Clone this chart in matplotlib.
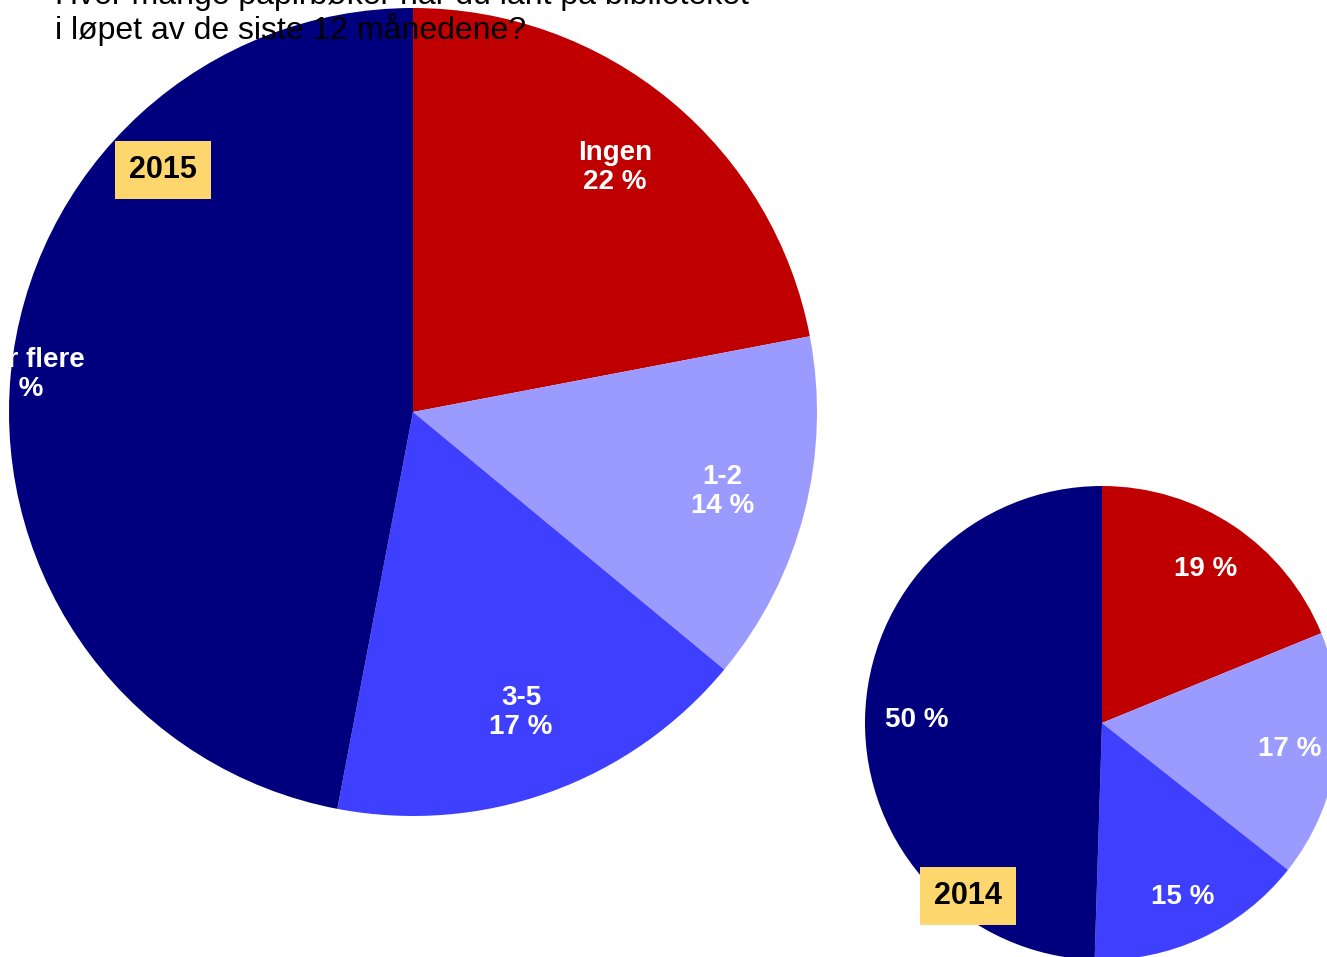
import numpy as np
import matplotlib
matplotlib.use("Agg")
import matplotlib.pyplot as plt

plt.rcParams['font.family'] = ['Liberation Sans', 'DejaVu Sans']

# data
categories = ['Ingen', '1-2', '3-5', '6 eller flere']
values_2015 = [22, 14, 17, 47]
values_2014 = [19, 17, 15, 50]
colors = ['#C00000', '#9B9BFF', '#3F3FFF', '#00007F']
title_lines = ['Hvor mange papirbøker har du lånt på biblioteket',
               'i løpet av de siste 12 månedene?']

W, H = 1327, 957
fig = plt.figure(figsize=(W / 100, H / 100), dpi=100)
ax = fig.add_axes([0, 0, 1, 1])


def px(x, y):
    # pixel position (top-left origin) -> data coords
    return x, H - y


def draw_pie(values, center, radius, labels, dists, year, year_pos):
    cx, cy = px(*center)
    wedges, _ = ax.pie(values, colors=colors, startangle=90, counterclock=False,
                       center=(cx, cy), radius=radius,
                       wedgeprops=dict(linewidth=0))
    for w, lab, d in zip(wedges, labels, dists):
        mid = np.deg2rad((w.theta1 + w.theta2) / 2)
        ax.text(cx + d * radius * np.cos(mid), cy + d * radius * np.sin(mid), lab,
                ha='center', va='center', color='white', fontsize=20,
                fontweight='bold', linespacing=1.15)
    yx, yy = px(*year_pos)
    ax.text(yx, yy, year, ha='center', va='center', fontsize=22, fontweight='bold',
            color='black',
            bbox=dict(boxstyle='square,pad=0.45', facecolor='#FDD76E', edgecolor='none'))


labels_2015 = [f'{c}\n{v} %' for c, v in zip(categories, values_2015)]
labels_2014 = [f'{v} %' for v in values_2014]

draw_pie(values_2015, (413, 412), 404, labels_2015, [0.785, 0.79, 0.79, 0.998],
         '2015', (163, 170))
draw_pie(values_2014, (1102, 723), 237, labels_2014, [0.785, 0.80, 0.81, 0.78],
         '2014', (968, 896))

# title (partly cut off at the top, as in the source)
for line, base in zip(title_lines, [4, 39]):
    x, y = px(55, base)
    ax.text(x, y, line, ha='left', va='baseline', fontsize=23, color='black')

ax.set_xlim(0, W)
ax.set_ylim(0, H)
ax.set_aspect('equal')
ax.axis('off')

fig.savefig('out.png', dpi=100, facecolor='white')
